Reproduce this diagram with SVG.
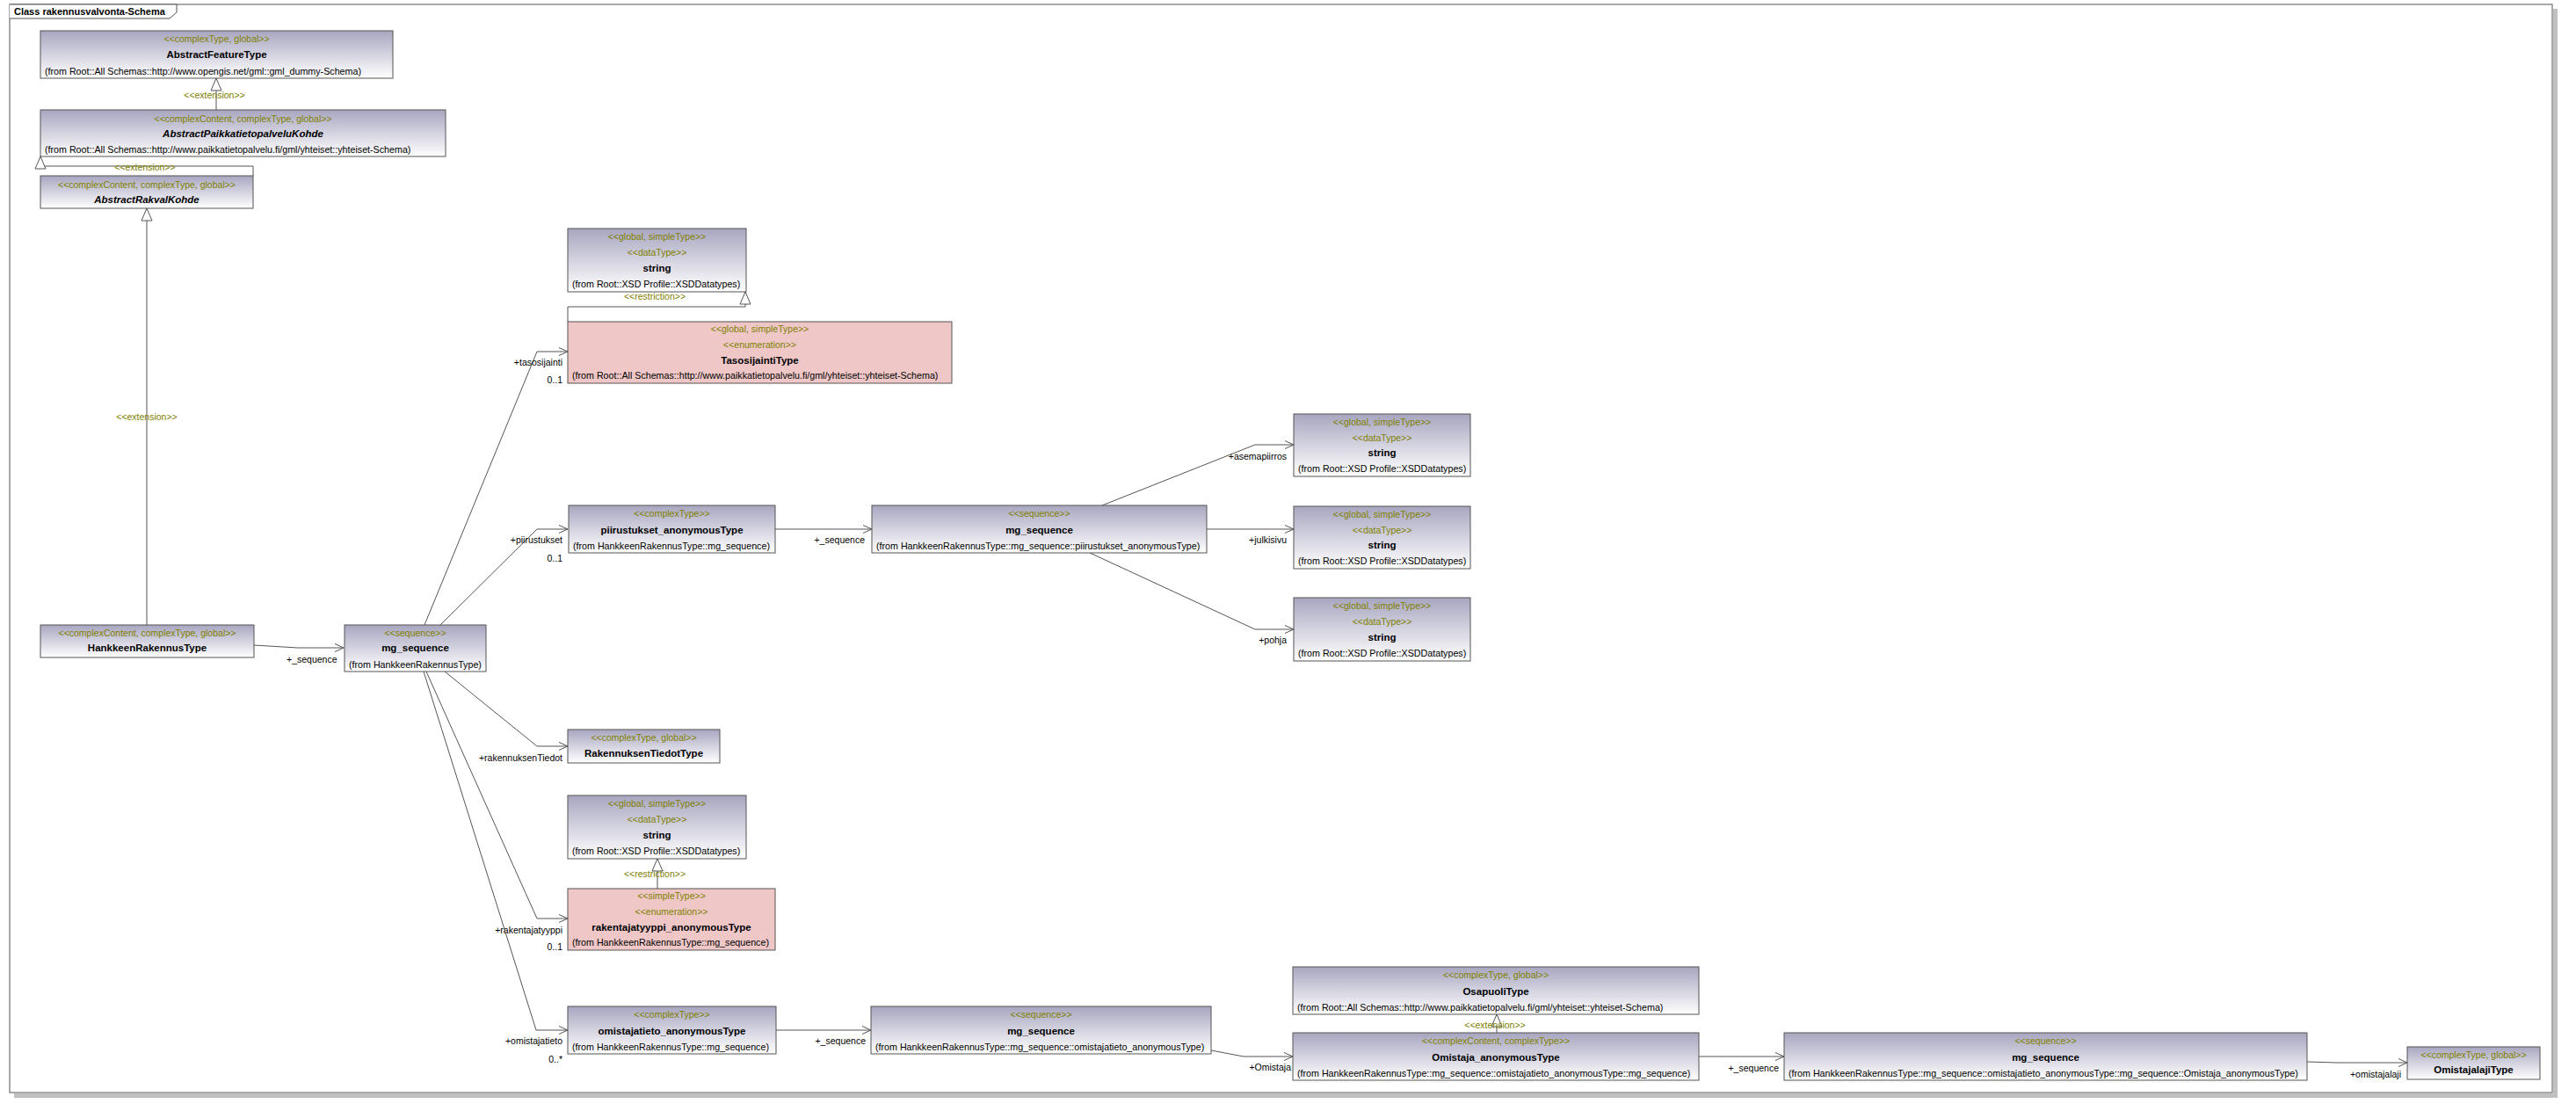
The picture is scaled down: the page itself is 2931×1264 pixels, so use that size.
<svg xmlns="http://www.w3.org/2000/svg" width="2931" height="1264" viewBox="0 0 2931 1264">
<style>
.bx{fill:url(#g);stroke:#555;stroke-width:1}
.pk{fill:#efc7c7;stroke:#555;stroke-width:1}
text{font-family:"Liberation Sans",Arial,sans-serif;font-size:11px}
.st{fill:#808000;text-anchor:middle;font-size:10.5px}
.nm{fill:#000;font-weight:bold;text-anchor:middle;font-size:11.5px}
.it{font-style:italic}
.fr{fill:#000;text-anchor:start;font-size:10.7px}
.lb{fill:#000;text-anchor:end;font-size:10.5px}
.lbs{fill:#000;font-size:10.5px}
.ln{stroke:#555;stroke-width:1;fill:none}
.as{marker-end:url(#arr)}
.gn{marker-end:url(#tri)}
</style>
<defs>
<linearGradient id="g" x1="0" y1="0" x2="0" y2="1">
<stop offset="0" stop-color="#a8a6c0"/>
<stop offset="1" stop-color="#ffffff"/>
</linearGradient>
<marker id="arr" markerUnits="userSpaceOnUse" markerWidth="14" markerHeight="12" refX="11" refY="6" orient="auto">
<path d="M1,1.5 L11,6 L1,10.5" fill="none" stroke="#555" stroke-width="1"/>
</marker>
<marker id="tri" markerUnits="userSpaceOnUse" markerWidth="18" markerHeight="16" refX="15" refY="7" orient="auto">
<path d="M1,1 L15,7 L1,13 Z" fill="#fff" stroke="#555" stroke-width="1"/>
</marker>
</defs>
<rect width="2931" height="1264" fill="#fff"/>
<g id="frame">
<rect x="2905" y="10" width="5" height="1239" fill="#c0c0c0"/>
<rect x="16" y="1244" width="2894" height="5" fill="#c0c0c0"/>
<rect x="11" y="5" width="2893" height="1238" fill="#fff" stroke="#555" stroke-width="1"/>
<path d="M11,5 L201,5 L201,14 L193,21 L11,21" fill="#fff" stroke="#555" stroke-width="1"/>
<text x="16" y="17" font-weight="bold" font-size="11.5" fill="#000">Class rakennusvalvonta-Schema</text>
</g>
<g id="connectors">
<path class="ln gn" d="M246,125 L246,89"/>
<text class="st" x="244" y="112">&lt;&lt;extension&gt;&gt;</text>
<path class="ln gn" d="M288,200 L288,189 L46,189 L46,178"/>
<text class="st" x="165" y="194">&lt;&lt;extension&gt;&gt;</text>
<path class="ln gn" d="M167,711 L167,237"/>
<text class="st" x="167" y="478">&lt;&lt;extension&gt;&gt;</text>
<path class="ln gn" d="M646,366 L646,349 L848,349 L848,332"/>
<text class="st" x="745" y="341">&lt;&lt;restriction&gt;&gt;</text>
<path class="ln gn" d="M748,1011 L748,977"/>
<text class="st" x="745" y="998">&lt;&lt;restriction&gt;&gt;</text>
<path class="ln gn" d="M1703,1175 L1703,1154"/>
<text class="st" x="1701" y="1170">&lt;&lt;extension&gt;&gt;</text>

<path class="ln as" d="M289,734 L339,737 L391,737"/>
<text class="lbs" x="326" y="754">+_sequence</text>
<path class="ln as" d="M483,711 L611,400 L646,400"/>
<text class="lb" x="640" y="416">+tasosijainti</text>
<text class="lb" x="640" y="436">0..1</text>
<path class="ln as" d="M501,711 L611,602 L646,602"/>
<text class="lb" x="640" y="618">+piirustukset</text>
<text class="lb" x="640" y="639">0..1</text>
<path class="ln as" d="M882,602 L992,602"/>
<text class="lb" x="984" y="618">+_sequence</text>
<path class="ln as" d="M1254,575 L1428,506 L1472,506"/>
<text class="lb" x="1464" y="523">+asemapiirros</text>
<path class="ln as" d="M1373,602 L1472,602"/>
<text class="lb" x="1464" y="618">+julkisivu</text>
<path class="ln as" d="M1240,629 L1428,716 L1472,716"/>
<text class="lb" x="1464" y="732">+pohja</text>
<path class="ln as" d="M506,764 L611,849 L646,849"/>
<text class="lb" x="640" y="866">+rakennuksenTiedot</text>
<path class="ln as" d="M485,764 L611,1045 L646,1045"/>
<text class="lb" x="640" y="1062">+rakentajatyyppi</text>
<text class="lb" x="640" y="1081">0..1</text>
<path class="ln as" d="M482,764 L610,1172 L646,1172"/>
<text class="lb" x="640" y="1188">+omistajatieto</text>
<text class="lb" x="640" y="1209">0..*</text>
<path class="ln as" d="M883,1172 L991,1172"/>
<text class="lb" x="985" y="1188">+_sequence</text>
<path class="ln as" d="M1378,1195 L1415,1202 L1471,1202"/>
<text class="lb" x="1469" y="1218">+Omistaja</text>
<path class="ln as" d="M1933,1202 L2030,1202"/>
<text class="lb" x="2024" y="1219">+_sequence</text>
<path class="ln as" d="M2625,1208 L2659,1209 L2739,1209"/>
<text class="lb" x="2732" y="1226">+omistajalaji</text>
</g>

<g id="AbstractFeatureType">
<rect class="bx" x="46" y="35" width="401" height="54"/>
<text class="st" x="246.5" y="48">&lt;&lt;complexType, global&gt;&gt;</text>
<text class="nm" x="246.5" y="66">AbstractFeatureType</text>
<text class="fr" x="51" y="85">(from Root::All Schemas::http://www.opengis.net/gml::gml_dummy-Schema)</text>
</g>
<g id="AbstractPaikkatietopalveluKohde">
<rect class="bx" x="46" y="125" width="461" height="53"/>
<text class="st" x="276.5" y="139">&lt;&lt;complexContent, complexType, global&gt;&gt;</text>
<text class="nm it" x="276.5" y="156">AbstractPaikkatietopalveluKohde</text>
<text class="fr" x="51" y="174">(from Root::All Schemas::http://www.paikkatietopalvelu.fi/gml/yhteiset::yhteiset-Schema)</text>
</g>
<g id="AbstractRakvalKohde">
<rect class="bx" x="46" y="200" width="242" height="37"/>
<text class="st" x="167" y="214">&lt;&lt;complexContent, complexType, global&gt;&gt;</text>
<text class="nm it" x="167" y="231">AbstractRakvalKohde</text>
</g>
<g id="HankkeenRakennusType">
<rect class="bx" x="46" y="711" width="243" height="37"/>
<text class="st" x="167.5" y="724">&lt;&lt;complexContent, complexType, global&gt;&gt;</text>
<text class="nm" x="167.5" y="741">HankkeenRakennusType</text>
</g>
<g id="mg_sequence_1">
<rect class="bx" x="392" y="711" width="161" height="53"/>
<text class="st" x="472.5" y="724">&lt;&lt;sequence&gt;&gt;</text>
<text class="nm" x="472.5" y="741">mg_sequence</text>
<text class="fr" x="397" y="760">(from HankkeenRakennusType)</text>
</g>
<g id="string_1">
<rect class="bx" x="646" y="260" width="203" height="72"/>
<text class="st" x="747.5" y="273">&lt;&lt;global, simpleType&gt;&gt;</text>
<text class="st" x="747.5" y="291">&lt;&lt;dataType&gt;&gt;</text>
<text class="nm" x="747.5" y="309">string</text>
<text class="fr" x="651" y="327">(from Root::XSD Profile::XSDDatatypes)</text>
</g>
<g id="TasosijaintiType">
<rect class="pk" x="646" y="366" width="437" height="70"/>
<text class="st" x="864.5" y="378">&lt;&lt;global, simpleType&gt;&gt;</text>
<text class="st" x="864.5" y="396">&lt;&lt;enumeration&gt;&gt;</text>
<text class="nm" x="864.5" y="414">TasosijaintiType</text>
<text class="fr" x="651" y="431">(from Root::All Schemas::http://www.paikkatietopalvelu.fi/gml/yhteiset::yhteiset-Schema)</text>
</g>
<g id="piirustukset_anonymousType">
<rect class="bx" x="647" y="575" width="235" height="54"/>
<text class="st" x="764.5" y="588">&lt;&lt;complexType&gt;&gt;</text>
<text class="nm" x="764.5" y="607">piirustukset_anonymousType</text>
<text class="fr" x="652" y="625">(from HankkeenRakennusType::mg_sequence)</text>
</g>
<g id="mg_sequence_2">
<rect class="bx" x="992" y="575" width="381" height="54"/>
<text class="st" x="1182.5" y="588">&lt;&lt;sequence&gt;&gt;</text>
<text class="nm" x="1182.5" y="607">mg_sequence</text>
<text class="fr" x="997" y="625">(from HankkeenRakennusType::mg_sequence::piirustukset_anonymousType)</text>
</g>
<g id="string_asemapiirros">
<rect class="bx" x="1472" y="471" width="201" height="71"/>
<text class="st" x="1572.5" y="484">&lt;&lt;global, simpleType&gt;&gt;</text>
<text class="st" x="1572.5" y="502">&lt;&lt;dataType&gt;&gt;</text>
<text class="nm" x="1572.5" y="519">string</text>
<text class="fr" x="1477" y="537">(from Root::XSD Profile::XSDDatatypes)</text>
</g>
<g id="string_julkisivu">
<rect class="bx" x="1472" y="576" width="201" height="71"/>
<text class="st" x="1572.5" y="589">&lt;&lt;global, simpleType&gt;&gt;</text>
<text class="st" x="1572.5" y="607">&lt;&lt;dataType&gt;&gt;</text>
<text class="nm" x="1572.5" y="624">string</text>
<text class="fr" x="1477" y="642">(from Root::XSD Profile::XSDDatatypes)</text>
</g>
<g id="string_pohja">
<rect class="bx" x="1472" y="680" width="201" height="72"/>
<text class="st" x="1572.5" y="693">&lt;&lt;global, simpleType&gt;&gt;</text>
<text class="st" x="1572.5" y="711">&lt;&lt;dataType&gt;&gt;</text>
<text class="nm" x="1572.5" y="729">string</text>
<text class="fr" x="1477" y="747">(from Root::XSD Profile::XSDDatatypes)</text>
</g>
<g id="RakennuksenTiedotType">
<rect class="bx" x="646" y="830" width="173" height="38"/>
<text class="st" x="732.5" y="843">&lt;&lt;complexType, global&gt;&gt;</text>
<text class="nm" x="732.5" y="861">RakennuksenTiedotType</text>
</g>
<g id="string_2">
<rect class="bx" x="646" y="905" width="203" height="72"/>
<text class="st" x="747.5" y="918">&lt;&lt;global, simpleType&gt;&gt;</text>
<text class="st" x="747.5" y="936">&lt;&lt;dataType&gt;&gt;</text>
<text class="nm" x="747.5" y="954">string</text>
<text class="fr" x="651" y="972">(from Root::XSD Profile::XSDDatatypes)</text>
</g>
<g id="rakentajatyyppi_anonymousType">
<rect class="pk" x="646" y="1011" width="236" height="70"/>
<text class="st" x="764" y="1023">&lt;&lt;simpleType&gt;&gt;</text>
<text class="st" x="764" y="1041">&lt;&lt;enumeration&gt;&gt;</text>
<text class="nm" x="764" y="1059">rakentajatyyppi_anonymousType</text>
<text class="fr" x="651" y="1076">(from HankkeenRakennusType::mg_sequence)</text>
</g>
<g id="omistajatieto_anonymousType">
<rect class="bx" x="646" y="1145" width="237" height="54"/>
<text class="st" x="764.5" y="1158">&lt;&lt;complexType&gt;&gt;</text>
<text class="nm" x="764.5" y="1177">omistajatieto_anonymousType</text>
<text class="fr" x="651" y="1195">(from HankkeenRakennusType::mg_sequence)</text>
</g>
<g id="mg_sequence_3">
<rect class="bx" x="991" y="1145" width="387" height="54"/>
<text class="st" x="1184.5" y="1158">&lt;&lt;sequence&gt;&gt;</text>
<text class="nm" x="1184.5" y="1177">mg_sequence</text>
<text class="fr" x="996" y="1195">(from HankkeenRakennusType::mg_sequence::omistajatieto_anonymousType)</text>
</g>
<g id="OsapuoliType">
<rect class="bx" x="1471" y="1100" width="462" height="54"/>
<text class="st" x="1702" y="1113">&lt;&lt;complexType, global&gt;&gt;</text>
<text class="nm" x="1702" y="1132">OsapuoliType</text>
<text class="fr" x="1476" y="1150">(from Root::All Schemas::http://www.paikkatietopalvelu.fi/gml/yhteiset::yhteiset-Schema)</text>
</g>
<g id="Omistaja_anonymousType">
<rect class="bx" x="1471" y="1175" width="462" height="54"/>
<text class="st" x="1702" y="1188">&lt;&lt;complexContent, complexType&gt;&gt;</text>
<text class="nm" x="1702" y="1207">Omistaja_anonymousType</text>
<text class="fr" x="1476" y="1225">(from HankkeenRakennusType::mg_sequence::omistajatieto_anonymousType::mg_sequence)</text>
</g>
<g id="mg_sequence_4">
<rect class="bx" x="2030" y="1175" width="595" height="54"/>
<text class="st" x="2327.5" y="1188">&lt;&lt;sequence&gt;&gt;</text>
<text class="nm" x="2327.5" y="1207">mg_sequence</text>
<text class="fr" x="2035" y="1225">(from HankkeenRakennusType::mg_sequence::omistajatieto_anonymousType::mg_sequence::Omistaja_anonymousType)</text>
</g>
<g id="OmistajalajiType">
<rect class="bx" x="2739" y="1191" width="151" height="37"/>
<text class="st" x="2814.5" y="1204">&lt;&lt;complexType, global&gt;&gt;</text>
<text class="nm" x="2814.5" y="1221">OmistajalajiType</text>
</g>
</svg>
